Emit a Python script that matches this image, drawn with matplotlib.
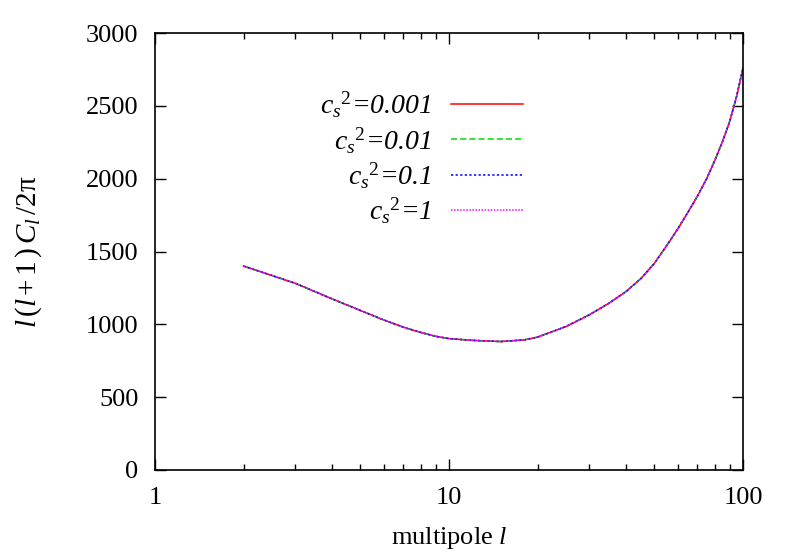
import numpy as np
import matplotlib
matplotlib.use("Agg")
from matplotlib import pyplot as plt
from matplotlib.ticker import LogLocator, FixedLocator, NullFormatter

# multipoles and l(l+1)C_l/2pi (all four curves coincide)
ell = [2, 3, 4, 5, 6, 7, 8, 9, 10, 12, 15, 18, 20, 25, 30, 35, 40, 45, 50, 55, 60, 65, 70, 75, 80, 85, 90, 95, 100]
cl_0001 = [1400, 1282, 1175, 1095, 1030, 980, 945, 918, 902, 890, 882, 893, 912, 985, 1065, 1145, 1225, 1315, 1420, 1540, 1655, 1770, 1880, 1995, 2120, 2250, 2390, 2560, 2760]
cl_001 = [1400, 1282, 1175, 1095, 1030, 980, 945, 918, 902, 890, 882, 893, 912, 985, 1065, 1145, 1225, 1315, 1420, 1540, 1655, 1770, 1880, 1995, 2120, 2250, 2390, 2560, 2760]
cl_01 = [1400, 1282, 1175, 1095, 1030, 980, 945, 918, 902, 890, 882, 893, 912, 985, 1065, 1145, 1225, 1315, 1420, 1540, 1655, 1770, 1880, 1995, 2120, 2250, 2390, 2560, 2760]
cl_1 = [1400, 1282, 1175, 1095, 1030, 980, 945, 918, 902, 890, 882, 893, 912, 985, 1065, 1145, 1225, 1315, 1420, 1540, 1655, 1770, 1880, 1995, 2120, 2250, 2390, 2560, 2760]

labels = [r"$c_s{}^2$=0.001", r"$c_s{}^2$=0.01", r"$c_s{}^2$=0.1", r"$c_s{}^2$=1"]
colors = ["#ff0000", "#00dd00", "#0000ff", "#ff00ff"]
styles = ["-", (0, (4, 2)), (0, (1.5, 1.5)), (0, (1, 1))]

plt.rcParams["font.family"] = ["Liberation Serif", "DejaVu Serif"]
plt.rcParams["mathtext.fontset"] = "custom"
plt.rcParams["mathtext.rm"] = "Liberation Serif"
plt.rcParams["mathtext.it"] = "Liberation Serif:italic"
plt.rcParams["font.size"] = 19

fig = plt.figure(figsize=(7.9, 5.53), dpi=100)
ax = fig.add_axes([155 / 790, 83 / 553, 588 / 790, 437 / 553])

for y, lab, c, ls in zip([cl_0001, cl_001, cl_01, cl_1], labels, colors, styles):
  ax.plot(ell, y, color=c, linestyle=ls, linewidth=1.1, label=lab)

ax.set_xscale("log")
ax.set_xlim(1, 100)
ax.set_ylim(0, 3000)
ax.xaxis.set_major_locator(FixedLocator([1, 10, 100]))
ax.xaxis.set_minor_locator(LogLocator(base=10, subs=np.arange(2, 10)))
ax.xaxis.set_minor_formatter(NullFormatter())
ax.set_xticklabels(["1", "10", "100"])
ax.set_yticks(np.arange(0, 3001, 500))

ax.tick_params(which="both", direction="in", top=True, right=True, width=1)
ax.tick_params(which="major", length=8, pad=12)
ax.tick_params(which="minor", length=4)
for s in ax.spines.values():
  s.set_linewidth(1.2)

ax.set_xlabel(r"multipole $l$", labelpad=12)
ax.set_ylabel(r"$\mathit{l\,(l\,{+}\,1\,)\,C_l\,/2}\mathrm{\pi}$", labelpad=30, fontsize=21)

leg = ax.legend(loc="upper right", bbox_to_anchor=(523 / 790, 1 - 90 / 553), bbox_transform=fig.transFigure,
                frameon=False, markerfirst=False, handlelength=2.6, handletextpad=0.7,
                labelspacing=0.17, borderpad=0, borderaxespad=0, fontsize=20)
for t in leg.get_texts():
  t.set_fontstyle("italic")

fig.savefig("out.png", dpi=100)
